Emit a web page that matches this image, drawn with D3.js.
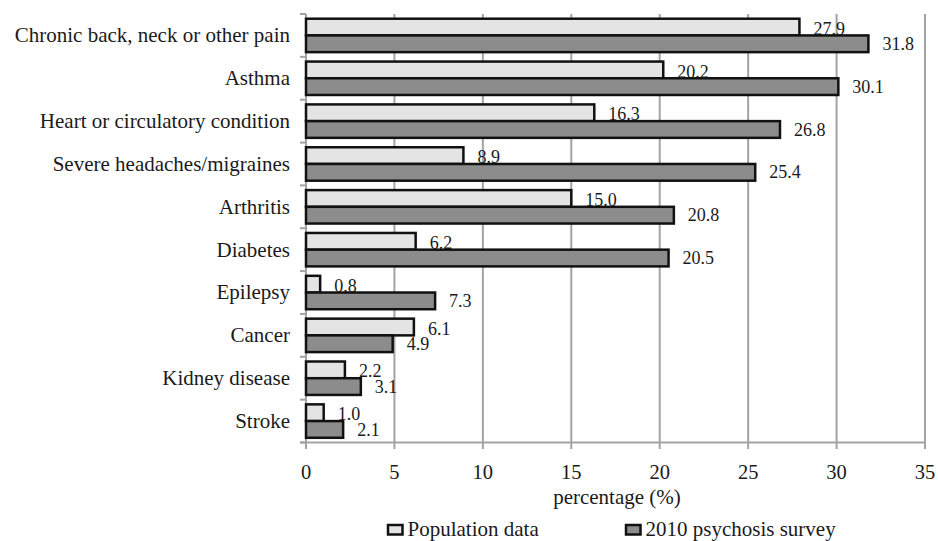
<!DOCTYPE html>
<html>
<head>
<meta charset="UTF-8" />
<title>conditions</title>
<script src="https://d3js.org/d3.v7.min.js"></script>
<style>
  body { margin: 0; background: #fff; }
</style>
</head>
<body>
<svg id="chart" width="938" height="541"></svg>
<script>
// data
var categories = ["Chronic back, neck or other pain", "Asthma", "Heart or circulatory condition",
  "Severe headaches/migraines", "Arthritis", "Diabetes", "Epilepsy", "Cancer", "Kidney disease", "Stroke"]
var populationData = [27.9, 20.2, 16.3, 8.9, 15.0, 6.2, 0.8, 6.1, 2.2, 1.0]
var surveyData = [31.8, 30.1, 26.8, 25.4, 20.8, 20.5, 7.3, 4.9, 3.1, 2.1]
var seriesNames = ["Population data", "2010 psychosis survey"]
var xTicks = [0, 5, 10, 15, 20, 25, 30, 35]

var lightFill = "#e4e4e4"
var darkFill = "#8c8c8c"
var gridCol = "#a3a3a3"
var textCol = "#1a1a1a"
var font = "'Liberation Serif'"

var svg = d3.select("#chart")

var xScale = d3.scaleLinear().domain([0, 35]).range([306, 925])
var yScale = d3.scaleBand().domain(categories).range([14, 442.5]).paddingInner(0.22).paddingOuter(0.11)
var subScale = d3.scaleBand().domain(seriesNames).range([0, yScale.bandwidth()])
var fillScale = d3.scaleOrdinal().domain(seriesNames).range([lightFill, darkFill])

// vertical grid
svg.append("g").selectAll("line").data(xTicks).join("line")
  .attr("x1", d => xScale(d)).attr("x2", d => xScale(d))
  .attr("y1", 14).attr("y2", 449)
  .style("stroke", gridCol).style("stroke-width", 2)

// left axis line + category ticks
var step = yScale.step()
var bounds = d3.range(categories.length + 1).map(i => 14 + i * step)
svg.append("line").attr("x1", 306).attr("x2", 306).attr("y1", 14).attr("y2", 442.5)
  .style("stroke", gridCol).style("stroke-width", 2)
svg.append("g").selectAll("line").data(bounds).join("line")
  .attr("x1", 300).attr("x2", 306).attr("y1", d => d).attr("y2", d => d)
  .style("stroke", gridCol).style("stroke-width", 2)
// bottom axis line
svg.append("line").attr("x1", 300).attr("x2", 926).attr("y1", 442.5).attr("y2", 442.5)
  .style("stroke", gridCol).style("stroke-width", 2)

// x tick labels
svg.append("g").selectAll("text").data(xTicks).join("text")
  .attr("x", d => xScale(d)).attr("y", 478.5)
  .attr("text-anchor", "middle").attr("font-family", font).attr("font-size", 20.5).attr("fill", textCol)
  .text(d => d)

svg.append("text").attr("x", 617).attr("y", 504).attr("text-anchor", "middle")
  .attr("font-family", font).attr("font-size", 21).attr("fill", textCol).text("percentage (%)")

// category labels
svg.append("g").selectAll("text").data(categories).join("text")
  .attr("x", 290).attr("y", d => yScale(d) + yScale.bandwidth() / 2)
  .attr("dy", "0.33em").attr("text-anchor", "end")
  .attr("font-family", font).attr("font-size", 21).attr("fill", textCol)
  .text(d => d)

// bars
var rows = categories.map((c, i) => ({cat: c, vals: [populationData[i], surveyData[i]]}))
var groups = svg.append("g").selectAll("g").data(rows).join("g")
  .attr("transform", d => `translate(0,${yScale(d.cat)})`)

groups.selectAll("rect").data(d => d.vals.map((v, j) => ({key: seriesNames[j], v: v}))).join("rect")
  .attr("x", xScale(0))
  .attr("y", d => subScale(d.key))
  .attr("width", d => xScale(d.v) - xScale(0))
  .attr("height", subScale.bandwidth())
  .attr("fill", d => fillScale(d.key))
  .style("stroke", "#111").style("stroke-width", 2.5)

groups.selectAll("text").data(d => d.vals.map((v, j) => ({key: seriesNames[j], v: v}))).join("text")
  .attr("x", d => xScale(d.v) + 14)
  .attr("y", (d, j) => subScale(d.key) + subScale.bandwidth() / 2 + (j === 0 ? 1.5 : 0))
  .attr("dy", "0.34em").attr("font-family", font).attr("font-size", 18).attr("fill", textCol)
  .text(d => d.v.toFixed(1))

// legend
var legendX = [387, 625]
var legend = svg.append("g").selectAll("g").data(seriesNames).join("g")
  .attr("transform", (d, i) => `translate(${legendX[i]},525)`)
legend.append("rect").attr("x", 1).attr("y", 0).attr("width", 14.5).attr("height", 9.5)
  .attr("fill", d => fillScale(d)).style("stroke", "#111").style("stroke-width", 2.5)
legend.append("text").attr("x", 20.5).attr("y", 10.5)
  .attr("font-family", font).attr("font-size", 21).attr("fill", textCol).text(d => d)
</script>
</body>
</html>
